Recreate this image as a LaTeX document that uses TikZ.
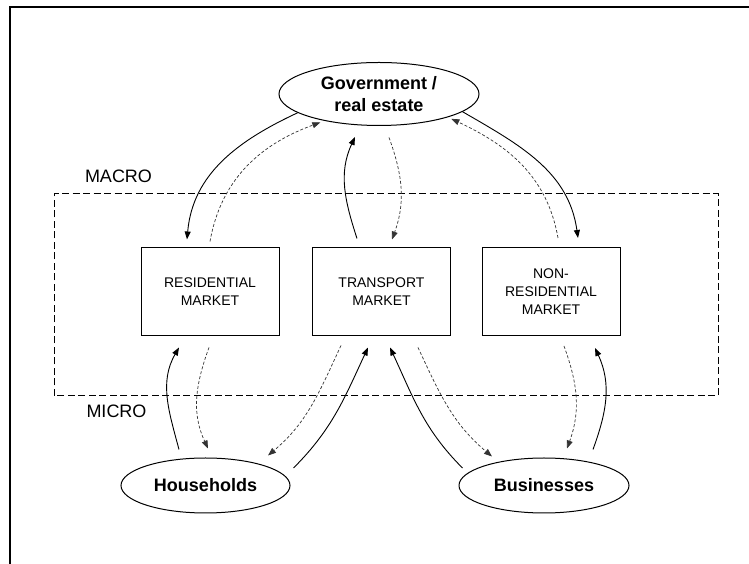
\documentclass[tikz,border=0pt]{standalone}
\usepackage{fontspec}
\setmainfont{Liberation Sans}
\usetikzlibrary{shapes.geometric}
\usetikzlibrary{arrows.meta}

\begin{document}
\begin{tikzpicture}[x=10pt, y=10pt,
    market/.style={draw, line width=1pt, minimum width=138pt, minimum height=88pt, align=center, font=\fontsize{14}{18}\selectfont},
    agent/.style={draw, ellipse, line width=1pt, inner sep=0pt, align=center, font=\bfseries\fontsize{18}{22}\selectfont},
    level/.style={font=\fontsize{18}{22}\selectfont},
    solidflow/.style={-{Triangle[length=8pt,width=6pt]}, line width=0.9pt},
    dashflow/.style={-{Triangle[length=8pt,width=6pt]}, line width=0.7pt, black!80, dash pattern=on 3pt off 2pt}]
                \useasboundingbox (0,0) rectangle (74.9,56.4);
                % Frame
                \draw[line width=2pt] (1.0,0) -- (1.0,55.73) -- (74.9,55.73);

                % Macro / micro split
                \draw[line width=1pt, dash pattern=on 7pt off 3.5pt] (5.4,16.8) rectangle (71.8,37.0);
                \node[level] (macro) at (11.85, 38.8) {MACRO};
                \node[level] (micro) at (11.65, 15.3) {MICRO};

                % Agents
                \node[agent, minimum width=200pt, minimum height=63pt] (gov) at (37.9, 47.0) {Government /\\real estate};
                \node[agent, minimum width=169pt, minimum height=55pt] (hh) at (20.55, 7.85) {Households};
                \node[agent, minimum width=170pt, minimum height=55pt] (bus) at (54.4, 7.85) {Businesses};

                % Markets
                \node[market] (res) at (21.0, 27.2) {RESIDENTIAL\\MARKET};
                \node[market] (trans) at (38.15, 27.2) {TRANSPORT\\MARKET};
                \node[market] (nonres) at (55.1, 27.25) {NON-\\RESIDENTIAL\\MARKET};

                % Government <-> markets
                \draw[solidflow] (gov.193) to[out=205, in=85] ([xshift=-23pt, yshift=8pt]res.north);
                \draw[dashflow] ([yshift=6pt]res.north) to[out=80, in=200] ([shift={(-2pt,-2pt)}]gov.205);
                \draw[solidflow] ([xshift=-24.5pt, yshift=9pt]trans.north) to[out=108, in=245] ([xshift=-24pt, yshift=-11pt]gov.south);
                \draw[dashflow] ([xshift=10pt, yshift=-11.5pt]gov.south) to[out=290, in=70] ([xshift=10.5pt, yshift=8pt]trans.north);
                \draw[solidflow] (gov.348) to[out=330, in=98] ([xshift=27pt, yshift=9pt]nonres.north);
                \draw[dashflow] ([xshift=7pt, yshift=9pt]nonres.north) to[out=100, in=335] ([shift={(2pt,-2pt)}]gov.342);

                % Households <-> markets
                \draw[solidflow] ([xshift=-26.5pt, yshift=8pt]hh.north) to[out=105, in=240] ([xshift=-31pt, yshift=-11pt]res.south);
                \draw[dashflow] ([xshift=-1pt, yshift=-11pt]res.south) to[out=250, in=115] ([xshift=2.5pt, yshift=9pt]hh.north);
                \draw[dashflow] ([xshift=-40.5pt, yshift=-9pt]trans.south) to[out=245, in=40] ([xshift=62.5pt, yshift=2pt]hh.north);
                \draw[solidflow] ([xshift=3pt, yshift=17.5pt]hh.east) to[out=45, in=245] ([xshift=-13.5pt, yshift=-11pt]trans.south);

                % Businesses <-> markets
                \draw[solidflow] ([xshift=4pt, yshift=17.5pt]bus.west) to[out=135, in=295] ([xshift=8.5pt, yshift=-11pt]trans.south);
                \draw[dashflow] ([xshift=36.5pt, yshift=-11pt]trans.south) to[out=295, in=140] ([xshift=-52pt, yshift=1pt]bus.north);
                \draw[dashflow] ([xshift=13pt, yshift=-10pt]nonres.south) to[out=290, in=70] ([xshift=23pt, yshift=9pt]bus.north);
                \draw[solidflow] ([xshift=49pt, yshift=8pt]bus.north) to[out=70, in=295] ([xshift=44pt, yshift=-12pt]nonres.south);
\end{tikzpicture}
\end{document}
